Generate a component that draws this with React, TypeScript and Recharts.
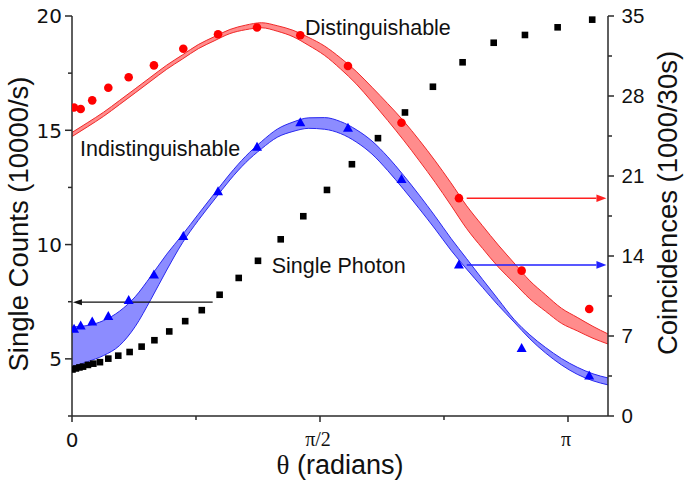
import React from 'react';
import { ComposedChart, Area, Scatter, XAxis, YAxis, ReferenceLine, ReferenceDot } from 'recharts';

// ---- band (fit) grid, right axis units (1000/30s) ----
const thetaGrid = [0, 0.1, 0.2, 0.3, 0.4, 0.5, 0.6, 0.7, 0.8, 0.9, 1.0, 1.1, 1.2, 1.3, 1.4, 1.5, 1.6, 1.7, 1.8, 1.9, 2.0, 2.1, 2.2, 2.3, 2.4, 2.5, 2.6, 2.7, 2.8, 2.9, 3.0, 3.1, 3.2, 3.3, 3.395];
const redLow = [24.45, 25.32, 26.22, 27.24, 28.27, 29.31, 30.34, 31.24, 32.14, 32.82, 33.46, 33.8, 33.97, 33.67, 33.19, 32.42, 31.55, 30.38, 29.06, 27.49, 25.85, 24.14, 22.33, 20.45, 18.44, 16.39, 14.67, 13.04, 11.65, 10.25, 9.16, 8.11, 7.45, 6.8, 6.3];
const redHigh = [24.81, 25.68, 26.58, 27.6, 28.63, 29.67, 30.7, 31.6, 32.5, 33.18, 33.82, 34.2, 34.41, 34.15, 33.75, 33.12, 32.37, 31.34, 30.16, 28.77, 27.33, 25.82, 24.13, 22.33, 20.4, 18.39, 16.65, 14.96, 13.39, 11.83, 10.6, 9.43, 8.63, 7.84, 7.18];
const blueLow = [4.29, 4.76, 5.29, 6.15, 7.82, 10.21, 12.77, 15.16, 17.12, 18.9, 20.65, 22.17, 23.38, 24.39, 24.9, 25.17, 25.09, 24.72, 23.98, 22.92, 21.47, 19.84, 18.13, 16.36, 14.51, 12.85, 11.26, 9.68, 8.22, 6.75, 5.51, 4.47, 3.65, 3.08, 2.72];
const blueHigh = [7.79, 7.92, 8.35, 9.16, 10.43, 12.24, 14.16, 15.87, 17.66, 19.43, 21.18, 22.73, 24.01, 25.1, 25.72, 26.09, 26.11, 25.77, 25.06, 24.06, 22.68, 21.06, 19.32, 17.48, 15.55, 13.76, 11.96, 10.2, 8.46, 7.1, 5.99, 5.03, 4.27, 3.69, 3.33];

// ---- measured coincidences (right axis) ----
const pointTheta = [0.013, 0.055, 0.128, 0.23, 0.359, 0.519, 0.705, 0.925, 1.172, 1.446, 1.748, 2.087, 2.451, 2.848, 3.276];
const distinguishable = [27.0, 26.86, 27.62, 28.72, 29.64, 30.68, 32.14, 33.4, 34.0, 33.32, 30.62, 25.66, 19.06, 12.72, 9.36];
const indistinguishable = [7.58, 7.88, 8.22, 8.7, 10.1, 12.34, 15.7, 19.62, 23.52, 25.66, 25.18, 20.7, 13.22, 5.9, 3.5];

// ---- single photon counts (left axis) ----
const photonTheta = [0.003, 0.025, 0.047, 0.07, 0.101, 0.135, 0.177, 0.23, 0.293, 0.365, 0.441, 0.522, 0.616, 0.717, 0.822, 0.935, 1.056, 1.178, 1.322, 1.465, 1.615, 1.773, 1.938, 2.109, 2.286, 2.474, 2.671, 2.869, 3.076, 3.295];
const singlePhoton = [4.535, 4.58, 4.625, 4.66, 4.735, 4.79, 4.855, 5.01, 5.14, 5.3, 5.535, 5.815, 6.2, 6.65, 7.13, 7.805, 8.54, 9.29, 10.23, 11.24, 12.39, 13.515, 14.655, 15.78, 16.905, 17.975, 18.83, 19.17, 19.505, 19.84];

// ---- ticks ----
const xTicks = [0, Math.PI / 4, Math.PI / 2, (3 * Math.PI) / 4, Math.PI];
const xTickLabels = ['0', '', 'π/2', '', 'π'];
const leftTicks = [2.5, 5, 7.5, 10, 12.5, 15, 17.5, 20];
const rightTicks = [0, 3.5, 7, 10.5, 14, 17.5, 21, 24.5, 28, 31.5, 35];

const bandData = thetaGrid.map((t, i) => ({
  theta: t,
  red: [redLow[i], redHigh[i]],
  blue: [blueLow[i], blueHigh[i]],
}));
const redData = pointTheta.map((t, i) => ({ theta: t, v: distinguishable[i] }));
const blueData = pointTheta.map((t, i) => ({ theta: t, v: indistinguishable[i] }));
const blackData = photonTheta.map((t, i) => ({ theta: t, v: singlePhoton[i] }));

const AXIS = '#2a2a2a';
const SANS = '"Liberation Sans", Arial, sans-serif';
const DEJAVU = '"DejaVu Sans", sans-serif';
const SERIF = '"Liberation Serif", "DejaVu Serif", serif';

const LeftTick = (props: any) => {
  const { x, y, payload } = props;
  const v = payload.value;
  const major = Math.abs(v % 5) < 1e-6;
  return (
    <g>
      <line x1={x} x2={x - (major ? 7 : 4)} y1={y} y2={y} stroke={AXIS} strokeWidth={1.5} />
      {major && (
        <text x={x - 10} y={y + 7.3} textAnchor="end" fontFamily={DEJAVU} fontSize={20} fill="#111">
          {v}
        </text>
      )}
    </g>
  );
};

const RightTick = (props: any) => {
  const { x, y, payload } = props;
  const v = payload.value;
  const major = Math.abs(v % 7) < 1e-6;
  return (
    <g>
      <line x1={x} x2={x + (major ? 6 : 4)} y1={y} y2={y} stroke={AXIS} strokeWidth={1.5} />
      {major && (
        <text x={x + 13.5} y={y + 7.2} textAnchor="start" fontFamily={SANS} fontSize={20.5} fill="#111">
          {v}
        </text>
      )}
    </g>
  );
};

const BottomTick = (props: any) => {
  const { x, y, index } = props;
  const label = xTickLabels[index];
  const major = label !== '';
  return (
    <g>
      <line x1={x} x2={x} y1={y} y2={y + (major ? 6 : 4)} stroke={AXIS} strokeWidth={1.5} />
      {index === 0 && (
        <text x={x} y={y + 30.5} textAnchor="middle" fontFamily={DEJAVU} fontSize={20} fill="#111">
          {label}
        </text>
      )}
      {index > 0 && major && (
        <text x={x - 2} y={y + 30} textAnchor="middle" fontFamily={SERIF} fontSize={20} fill="#111">
          {label}
        </text>
      )}
    </g>
  );
};

const circleShape = (p: any) => <circle cx={p.cx} cy={p.cy} r={4.3} fill="#ff0000" />;
const triangleShape = (p: any) => (
  <polygon points={`${p.cx},${p.cy - 5.5} ${p.cx - 5},${p.cy + 3.5} ${p.cx + 5},${p.cy + 3.5}`} fill="#0000ff" />
);
const squareShape = (p: any) => <rect x={p.cx - 3.3} y={p.cy - 3.3} width={6.6} height={6.6} fill="#000" />;

const arrowShape = (color: string, headLen: number, headW: number, sw: number) => (props: any) => {
  const { x1, y1, x2, y2 } = props;
  const dx = x2 - x1;
  const dy = y2 - y1;
  const len = Math.hypot(dx, dy) || 1;
  const ux = dx / len;
  const uy = dy / len;
  const bx = x2 - ux * headLen;
  const by = y2 - uy * headLen;
  const pts = `${x2},${y2} ${bx - uy * headW},${by + ux * headW} ${bx + uy * headW},${by - ux * headW}`;
  return (
    <g>
      <line x1={x1} y1={y1} x2={bx} y2={by} stroke={color} strokeWidth={sw} />
      <polygon points={pts} fill={color} />
    </g>
  );
};

const textLabel = (txt: string) => (props: any) => {
  const vb = props.viewBox || {};
  return (
    <text x={vb.x} y={vb.y} textAnchor="start" fontFamily={SANS} fontSize={21.5} fill="#111">
      {txt}
    </text>
  );
};

export default function App() {
  return (
    <div style={{ position: 'fixed', left: 0, top: 0, background: '#fff' }}>
      <ComposedChart width={690} height={487} data={bandData} margin={{ top: 16, right: 0, bottom: 0, left: 0 }}>
        <XAxis
          dataKey="theta"
          type="number"
          domain={[0, 3.395]}
          allowDataOverflow
          ticks={xTicks}
          interval={0}
          tickSize={0}
          tickMargin={0}
          tickLine={false}
          tick={<BottomTick />}
          axisLine={{ stroke: AXIS, strokeWidth: 1.5 }}
          height={71}
          label={() => (
            <text x={340} y={474} textAnchor="middle" fontFamily={SANS} fontSize={27} fill="#111">
              <tspan fontFamily={SERIF}>θ</tspan> (radians)
            </text>
          )}
        />
        <YAxis
          yAxisId="left"
          orientation="left"
          type="number"
          domain={[2.5, 20]}
          allowDataOverflow
          ticks={leftTicks}
          interval={0}
          tickSize={0}
          tickMargin={0}
          tickLine={false}
          tick={<LeftTick />}
          axisLine={{ stroke: AXIS, strokeWidth: 1.5 }}
          width={72}
          label={() => (
            <text x={28} y={224} transform="rotate(-90 28 224)" textAnchor="middle" fontFamily={SANS} fontSize={27.5} fill="#111">
              Single Counts (10000/s)
            </text>
          )}
        />
        <YAxis
          yAxisId="right"
          orientation="right"
          type="number"
          domain={[0, 35]}
          allowDataOverflow
          ticks={rightTicks}
          interval={0}
          tickSize={0}
          tickMargin={0}
          tickLine={false}
          tick={<RightTick />}
          axisLine={{ stroke: AXIS, strokeWidth: 1.5 }}
          width={82}
          label={() => (
            <text x={677} y={203} transform="rotate(-90 677 203)" textAnchor="middle" fontFamily={SANS} fontSize={27.5} fill="#111">
              Coincidences (1000/30s)
            </text>
          )}
        />

        <Area
          yAxisId="right"
          dataKey="red"
          type="monotone"
          stroke="#f02828"
          strokeWidth={1}
          fill="#ff0000"
          fillOpacity={0.45}
          isAnimationActive={false}
          dot={false}
          activeDot={false}
        />
        <Area
          yAxisId="right"
          dataKey="blue"
          type="monotone"
          stroke="#2828f0"
          strokeWidth={1}
          fill="#0000ff"
          fillOpacity={0.45}
          isAnimationActive={false}
          dot={false}
          activeDot={false}
        />

        <Scatter yAxisId="left" data={blackData} dataKey="v" shape={squareShape} isAnimationActive={false} />
        <Scatter yAxisId="right" data={redData} dataKey="v" shape={circleShape} isAnimationActive={false} />
        <Scatter yAxisId="right" data={blueData} dataKey="v" shape={triangleShape} isAnimationActive={false} />

        <ReferenceLine
          yAxisId="left"
          segment={[{ x: 0.891, y: 7.48 }, { x: 0.006, y: 7.48 }]}
          shape={arrowShape('#111', 9, 3, 1.3)}
        />
        <ReferenceLine
          yAxisId="right"
          segment={[{ x: 2.5, y: 19.05 }, { x: 3.385, y: 19.05 }]}
          shape={arrowShape('#ff2020', 10, 3.8, 1.5)}
        />
        <ReferenceLine
          yAxisId="right"
          segment={[{ x: 2.5, y: 13.22 }, { x: 3.385, y: 13.22 }]}
          shape={arrowShape('#2020ff', 10, 3.8, 1.5)}
        />

        <ReferenceDot yAxisId="left" x={1.476} y={19.19} r={0} fill="none" stroke="none" label={textLabel('Distinguishable')} />
        <ReferenceDot yAxisId="left" x={0.051} y={13.876} r={0} fill="none" stroke="none" label={textLabel('Indistinguishable')} />
        <ReferenceDot yAxisId="left" x={1.265} y={8.744} r={0} fill="none" stroke="none" label={textLabel('Single Photon')} />
      </ComposedChart>
    </div>
  );
}
